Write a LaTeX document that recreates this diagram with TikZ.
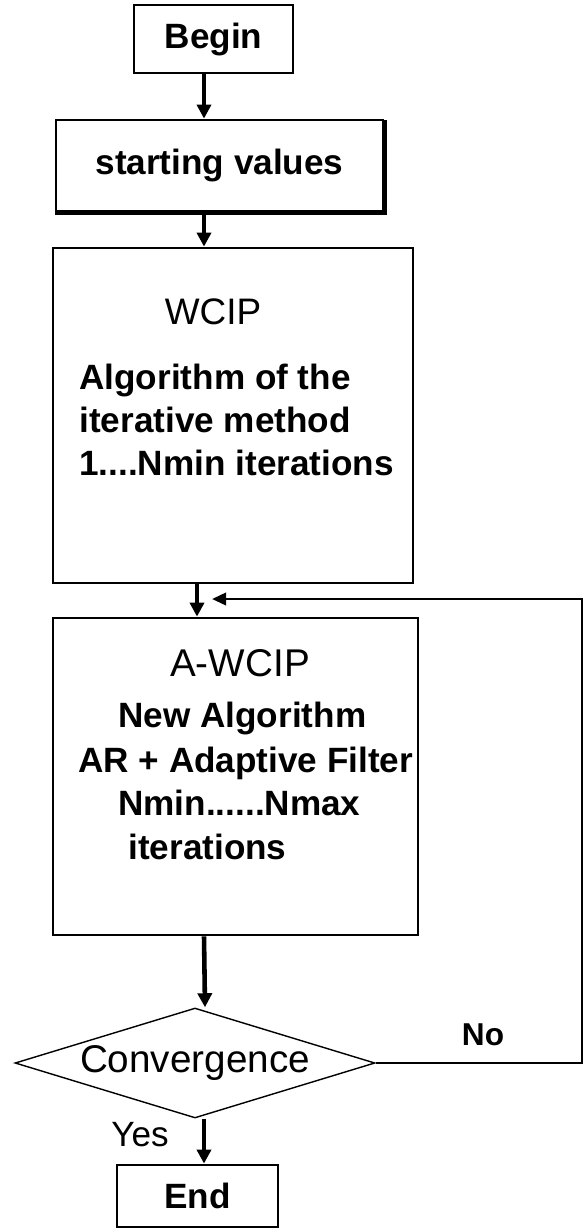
\documentclass[tikz,border=0pt]{standalone}
\usepackage{fontspec}
\setmainfont{Liberation Sans}
\usepackage{tikz}
\usetikzlibrary{shapes,arrows,positioning,calc,arrows.meta}

\tikzset{
    box/.style={draw, line width=1.6pt, rectangle, inner sep=0pt},
    txt/.style={font=\fontsize{20}{24.4}\selectfont\bfseries, inner sep=0pt},
    arr/.style={line width=2.6pt, -{Triangle[length=8pt,width=8pt]}},
}

\begin{document}
\begin{tikzpicture}[x=0.02cm, y=-0.02cm]
    \useasboundingbox (0,0) rectangle (584,1228);
    % boxes
    \node[box, minimum width=3.18cm, minimum height=1.36cm, txt] (begin) at (213.5,39) {Begin};
    \node[box, minimum width=6.54cm, minimum height=1.82cm, txt] (start) at (219.5,165.5) {starting values};
    \draw[line width=2.6pt] ([yshift=-0.8pt]start.north east) -- (start.south east) -- (start.south west);
    \node[box, minimum width=7.2cm, minimum height=6.7cm] (wcip) at (233,415.5) {};
    \node[box, minimum width=7.3cm, minimum height=6.34cm] (awcip) at (235.5,776.5) {};
    \node[draw, diamond, line width=0.8pt, aspect=3.27, minimum width=7.2cm, minimum height=2.2cm, inner sep=0pt,
        font=\fontsize{22}{26}\selectfont] (conv) at (195,1063) {Convergence};
    \node[box, minimum width=3.22cm, minimum height=1.24cm, txt] (end) at (197.5,1196) {End};
    % texts
    \node[font=\fontsize{21}{25}\selectfont] (t1) at (213,312) {WCIP};
    \node[txt, anchor=west, align=left] (t2) at (79,420) {Algorithm of the\\iterative method\\1....Nmin iterations};
    \node[font=\fontsize{22}{26}\selectfont] (t3) at (240,663) {A-WCIP};
    \node[txt, anchor=west] (t4) at (118,718) {New Algorithm};
    \node[txt, anchor=west] (t5) at (78,763) {AR + Adaptive Filter};
    \node[txt, anchor=west] (t6) at (118,803) {Nmin......Nmax};
    \node[txt, anchor=west] (t7) at (128,847) {iterations};
    \node[font=\fontsize{20}{24}\selectfont] (yes) at (140,1135) {Yes};
    \node[font=\fontsize{18}{22}\selectfont\bfseries] (no) at (483,1035) {No};
    % arrows
    \coordinate (axis) at (204,0);
    \coordinate (back) at (582,599);
    \coordinate (loop) at (212,599);
    \draw[arr] (begin.south -| axis) -- (start.north -| axis);
    \draw[arr] (start.south -| axis) -- (wcip.north -| axis);
    \draw[arr] ([xshift=-0.14cm]wcip.south -| axis) -- ([xshift=-0.14cm]awcip.north -| axis);
    \draw[arr] (awcip.south -| axis) -- ([xshift=0.02cm]conv.north -| axis);
    \draw[arr] (conv.south -| axis) -- (end.north -| axis);
    \draw[line width=1.6pt, -{Triangle[length=8pt,width=7pt]}] (conv.east) -| (back) -- (loop);
\end{tikzpicture}
\end{document}
